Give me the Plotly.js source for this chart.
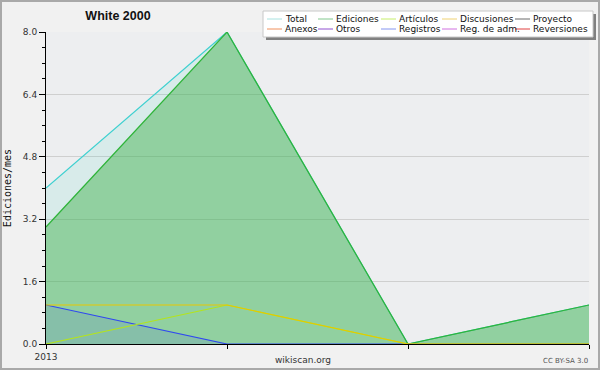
<!DOCTYPE html>
<html>
<head>
<meta charset="utf-8">
<script src="https://cdn.plot.ly/plotly-3.0.1.min.js"></script>
<style>
html,body{margin:0;padding:0;background:#f1f1f1;}
#chart{width:596px;height:366px;border:2px solid #a9a9a9;}
</style>
</head>
<body>
<div id="chart"></div>
<script>
// ---- data ----
const xIndex = [0, 1, 2, 3];
const xTickLabels = ['2013', '', '', ''];
const total = [4, 8, 0, 1];
const ediciones = [3, 8, 0, 1];
const articulos = [0, 1, 0, 0];
const discusiones = [1, 1, 0, 0];
const registros = [1, 0, 0, 0];

const legendNames = ['Total', 'Ediciones', 'Artículos', 'Discusiones', 'Proyecto',
                     'Anexos', 'Otros', 'Registros', 'Reg. de adm.', 'Reversiones'];
const legendColors = ['#a8e2e0', '#82c88e', '#c6ee6a', '#f0d272', '#6a6a6a',
                      '#f0905c', '#9050d0', '#8494f0', '#d070e0', '#e04040'];

// ---- layout helpers (image pixel -> paper coords) ----
const PX0 = 46, PX1 = 589, PY0 = 32, PY1 = 344;
const px = X => (X - PX0) / (PX1 - PX0);
const py = Y => (PY1 - Y) / (PY1 - PY0);

const traces = [
  {x: xIndex, y: total, name: 'Total', mode: 'lines', fill: 'tozeroy',
   fillcolor: 'rgba(64,210,200,0.12)', line: {color: '#3fd0d0', width: 1.2}},
  {x: xIndex, y: ediciones, name: 'Ediciones', mode: 'lines', fill: 'tozeroy',
   fillcolor: 'rgba(60,175,70,0.45)', line: {color: '#2fb43a', width: 1.2}},
  {x: xIndex, y: registros, name: 'Registros', mode: 'lines', fill: 'tozeroy',
   fillcolor: 'rgba(60,70,240,0.12)', line: {color: '#3048f0', width: 1.2}},
  {x: xIndex, y: articulos, name: 'Artículos', mode: 'lines',
   line: {color: '#b4e41c', width: 1.2}},
  {x: xIndex, y: discusiones, name: 'Discusiones', mode: 'lines',
   line: {color: '#e8c800', width: 1}}
];

// custom legend (two rows of five)
const colX = [267, 318, 381, 442, 515];
const rowY = [19, 29];
const shapes = [
  {type: 'rect', xref: 'paper', yref: 'paper', x0: px(266), x1: px(596), y0: py(14), y1: py(40),
   fillcolor: '#808080', line: {width: 0}, layer: 'above'},
  {type: 'rect', xref: 'paper', yref: 'paper', x0: px(263), x1: px(593), y0: py(11), y1: py(37),
   fillcolor: '#ffffff', line: {color: '#c8c8c8', width: 1}, layer: 'above'}
];
const annotations = [];
legendNames.forEach((n, i) => {
  const c = i % 5, r = Math.floor(i / 5);
  shapes.push({type: 'line', xref: 'paper', yref: 'paper', x0: px(colX[c]), x1: px(colX[c] + 15),
    y0: py(rowY[r]), y1: py(rowY[r]), line: {color: legendColors[i], width: 1}, layer: 'above'});
  annotations.push({xref: 'paper', yref: 'paper', x: px(colX[c] + 16), y: py(rowY[r]),
    xanchor: 'left', yanchor: 'middle', text: n, showarrow: false,
    font: {family: 'DejaVu Sans', size: 9, color: '#111'}});
});
annotations.push({xref: 'paper', yref: 'paper', x: px(303), y: py(360), text: 'wikiscan.org',
  showarrow: false, xanchor: 'center', yanchor: 'middle',
  font: {family: 'DejaVu Sans', size: 9, color: '#333'}});
annotations.push({xref: 'paper', yref: 'paper', x: px(590), y: py(361), text: 'CC BY-SA 3.0',
  showarrow: false, xanchor: 'right', yanchor: 'middle',
  font: {family: 'DejaVu Sans', size: 7, color: '#555'}});

const layout = {
  width: 596, height: 366,
  margin: {l: 44, r: 9, t: 30, b: 24, pad: 0},
  paper_bgcolor: '#f1f1f1', plot_bgcolor: '#edeef0',
  showlegend: false,
  title: {text: '<b>White 2000</b>', xref: 'container', yref: 'container',
    x: 116 / 596, y: 1 - 14 / 366, xanchor: 'center', yanchor: 'middle',
    font: {family: 'Liberation Sans', size: 12.5, color: '#111'}},
  xaxis: {range: [0, 3], tickvals: xIndex, ticktext: xTickLabels, showgrid: false,
    zeroline: false, showline: true, linecolor: '#000', linewidth: 1,
    ticks: 'outside', ticklen: 4, tickcolor: '#000',
    tickfont: {family: 'DejaVu Sans', size: 9, color: '#333'}},
  yaxis: {range: [0, 8], dtick: 1.6, tick0: 0, tickformat: '.1f', showgrid: true,
    gridcolor: '#cfcfcf', gridwidth: 1, zeroline: false, showline: true,
    linecolor: '#000', linewidth: 1, ticks: 'outside', ticklen: 6, tickcolor: '#000',
    tickfont: {family: 'DejaVu Sans', size: 9, color: '#333'},
    minor: {dtick: 0.4, ticks: 'outside', ticklen: 3, tickcolor: '#000', showgrid: false},
    title: {text: 'Ediciones/mes', standoff: 10,
      font: {family: 'DejaVu Sans Mono', size: 10, color: '#111'}}},
  shapes: shapes,
  annotations: annotations
};

Plotly.newPlot('chart', traces, layout, {displayModeBar: false, staticPlot: true});
</script>
</body>
</html>
